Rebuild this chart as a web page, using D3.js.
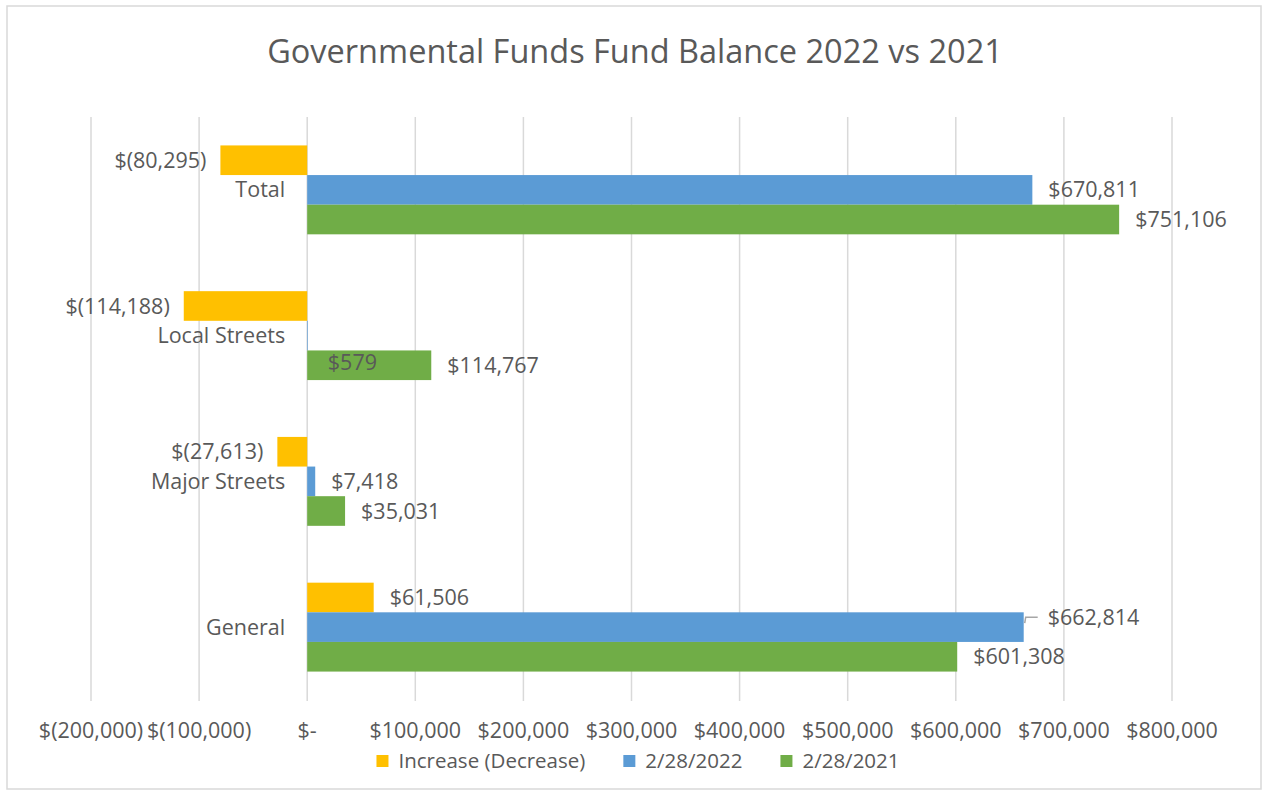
<!DOCTYPE html>
<html>
<head>
<meta charset="utf-8">
<script src="https://cdn.jsdelivr.net/npm/d3@7"></script>
<style>
  body { margin: 0; background: #fff; }
  text { font-family: "Open Sans", "Liberation Sans", sans-serif; fill: #595959; }
</style>
</head>
<body>
<div id="chart"></div>
<script>
// Chart data
const categories = ["Total", "Local Streets", "Major Streets", "General"];
const seriesNames = ["Increase (Decrease)", "2/28/2022", "2/28/2021"];
const increase = [-80295, -114188, -27613, 61506];
const fy2022 = [670811, 579, 7418, 662814];
const fy2021 = [751106, 114767, 35031, 601308];
const xTicks = [-200000, -100000, 0, 100000, 200000, 300000, 400000, 500000, 600000, 700000, 800000];

const colors = ["#FFC000", "#5B9BD5", "#70AD47"];
const width = 1264, height = 794;
const plot = { left: 91, right: 1172, top: 117, bottom: 700 };
const labelSize = "21.5px";

const svg = d3.select("#chart").append("svg")
    .attr("width", width)
    .attr("height", height);

// Outer chart frame
svg.append("rect")
    .attr("x", 7).attr("y", 6)
    .attr("width", 1254).attr("height", 783)
    .attr("fill", "#fff")
    .attr("stroke", "#D9D9D9")
    .attr("stroke-width", 1.5);

svg.append("text")
    .attr("x", 635).attr("y", 63)
    .attr("text-anchor", "middle")
    .style("font-size", "32.5px")
    .text("Governmental Funds Fund Balance 2022 vs 2021");

const x = d3.scaleLinear()
    .domain([-200000, 800000])
    .range([plot.left, plot.right]);

const y = d3.scaleBand()
    .domain(categories)
    .range([plot.top, plot.bottom])
    .paddingInner(0.39)
    .paddingOuter(0.195);

const ySub = d3.scaleBand()
    .domain(d3.range(seriesNames.length))
    .range([0, y.bandwidth()]);

// Gridlines
svg.append("g")
    .selectAll("line")
    .data(xTicks)
    .join("line")
    .attr("x1", d => x(d)).attr("x2", d => x(d))
    .attr("y1", plot.top).attr("y2", plot.bottom + 1)
    .attr("stroke", "#D9D9D9")
    .attr("stroke-width", 1.5);

// Axis tick labels
const fmt = v => {
    if (v === 0) return "$-";
    const s = d3.format(",")(Math.abs(v));
    return v < 0 ? "$(" + s + ")" : "$" + s;
};

svg.append("g")
    .selectAll("text")
    .data(xTicks)
    .join("text")
    .attr("x", d => x(d))
    .attr("y", 738)
    .attr("text-anchor", "middle")
    .style("font-size", labelSize)
    .text(fmt);

// Build bar records
const seriesValues = [increase, fy2022, fy2021];
const bars = [];
categories.forEach((c, ci) => {
    seriesValues.forEach((vals, si) => {
        bars.push({ cat: c, s: si, value: vals[ci] });
    });
});

svg.append("g")
    .selectAll("rect")
    .data(bars)
    .join("rect")
    .attr("x", d => x(Math.min(0, d.value)))
    .attr("y", d => y(d.cat) + ySub(d.s))
    .attr("width", d => Math.abs(x(d.value) - x(0)))
    .attr("height", ySub.bandwidth())
    .attr("fill", d => colors[d.s]);

// Category labels
svg.append("g")
    .selectAll("text")
    .data(categories)
    .join("text")
    .attr("x", x(0) - 22)
    .attr("y", d => y(d) + y.bandwidth() / 2)
    .attr("dy", "0.35em")
    .attr("text-anchor", "end")
    .style("font-size", labelSize)
    .text(d => d);

// Manual label nudges (as in the original, some labels were moved)
const nudges = {
    "Local Streets-1": { dx: 4, dy: 27 },
    "General-1": { dx: 8, dy: -10, leader: true }
};

const labels = svg.append("g");
bars.forEach(d => {
    const n = nudges[d.cat + "-" + d.s] || { dx: 0, dy: 0 };
    const cy = y(d.cat) + ySub(d.s) + ySub.bandwidth() / 2;
    const xe = x(d.value);
    const neg = d.value < 0;
    labels.append("text")
        .attr("x", (neg ? xe - 14 : xe + 16) + n.dx)
        .attr("y", cy + n.dy)
        .attr("dy", "0.35em")
        .attr("text-anchor", neg ? "end" : "start")
        .style("font-size", labelSize)
        .text(fmt(d.value));
    if (n.leader) {
        labels.append("path")
            .attr("d", `M${xe + 1},${cy - 4} L${xe + 2},${cy + n.dy} L${xe + 14},${cy + n.dy}`)
            .attr("fill", "none")
            .attr("stroke", "#A6A6A6")
            .attr("stroke-width", 1.5);
    }
});

// Legend, centred under the chart
const legend = svg.append("g");
let lx = 0;
seriesNames.forEach((name, i) => {
    legend.append("rect")
        .attr("x", lx).attr("y", 755)
        .attr("width", 12).attr("height", 12)
        .attr("fill", colors[i]);
    const t = legend.append("text")
        .attr("x", lx + 22).attr("y", 761)
        .attr("dy", "0.35em")
        .style("font-size", "20.5px")
        .text(name);
    lx += 22 + t.node().getComputedTextLength() + (i < seriesNames.length - 1 ? 38 : 0);
});
legend.attr("transform", `translate(${638 - lx / 2},0)`);
</script>
</body>
</html>
